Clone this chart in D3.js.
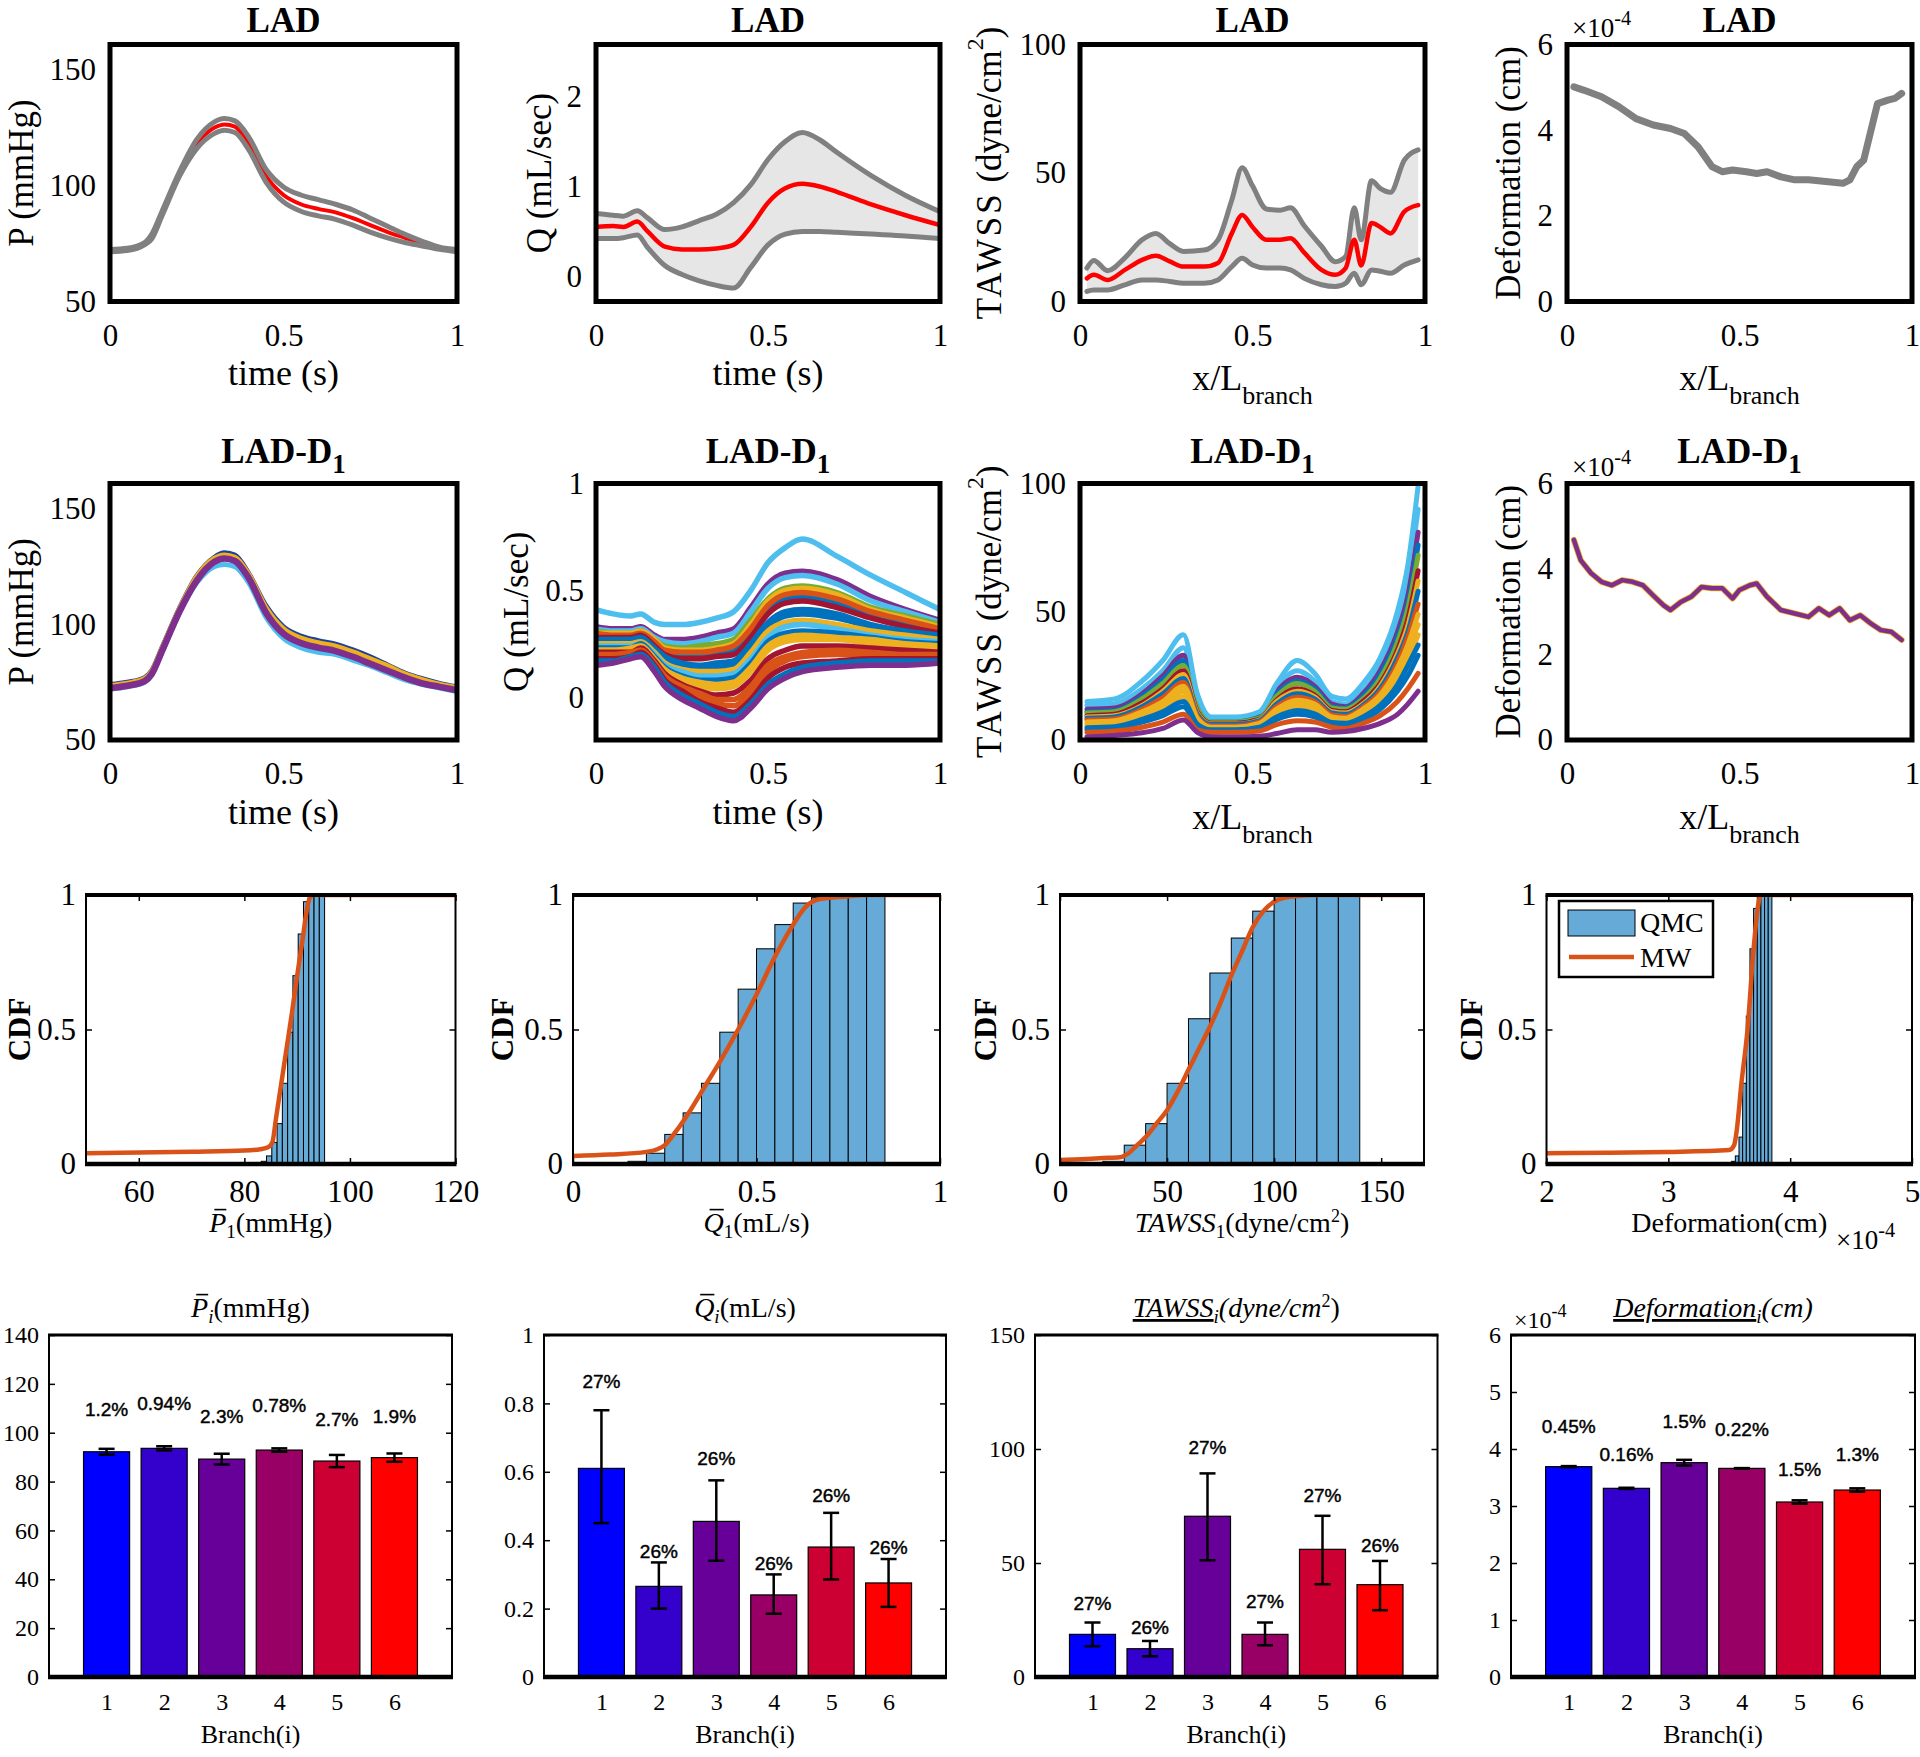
<!DOCTYPE html>
<html><head><meta charset="utf-8">
<script src="https://cdn.jsdelivr.net/npm/d3@7"></script>
<style>body{margin:0;background:#fff}svg{display:block}</style>
</head><body>
<script>
// ================= DATA =================
// Row 1 : LAD
const timeP = [0,0.05,0.1,0.12,0.15,0.2,0.25,0.3,0.33,0.36,0.4,0.45,0.5,0.55,0.6,0.65,0.7,0.75,0.8,0.85,0.9,0.95,1];
const pLadMean  = [72,72.5,75,78,88,105,118,125,126.5,125.5,118,104,96,92,90,88.5,86,83,80,77.5,75,73,72];
const pLadUpper = [72.5,73,75.5,79,89,106,120,127.5,129,128,121,107,99.5,96,94,92,89.5,86,82.5,79,76,73.5,72.5];
const pLadLower = [71.5,72,74.5,77,87,104,116,122.5,124,123,115.5,101.5,93,89,87,85.5,83,80,77.5,75.5,74,72.5,71.5];

const timeQ = [0,0.05,0.08,0.12,0.15,0.2,0.25,0.3,0.35,0.4,0.45,0.5,0.55,0.6,0.65,0.7,0.8,0.9,1];
const qLadUpper = [0.70,0.68,0.67,0.73,0.65,0.52,0.55,0.62,0.69,0.82,1.02,1.3,1.5,1.6,1.52,1.38,1.12,0.9,0.72];
const qLadMean  = [0.55,0.56,0.55,0.61,0.50,0.33,0.30,0.30,0.31,0.35,0.55,0.82,0.98,1.03,1.0,0.94,0.8,0.68,0.57];
const qLadLower = [0.42,0.42,0.43,0.46,0.32,0.12,0.02,-0.05,-0.10,-0.13,0.10,0.35,0.47,0.50,0.50,0.49,0.47,0.45,0.42];

const xTawss = [0.02,0.04,0.08,0.13,0.18,0.22,0.26,0.3,0.36,0.4,0.44,0.47,0.5,0.54,0.58,0.61,0.65,0.7,0.74,0.77,0.795,0.815,0.845,0.87,0.9,0.94,0.98];
const tawssLadUpper = [13,16,12,17,24,26.5,22.5,19.5,20,24,39.5,52,45,36,35.5,36.5,29.5,21.5,15.5,17.5,36.5,24,47,44,42.5,55,59];
const tawssLadMean  = [9,10.4,8.4,12.3,16.2,17.8,15.6,13.6,13.6,15,26.5,33.7,29,24,24,24.6,19,12.3,10.4,13,24,14,30.5,29,26.5,35,37.5];
const tawssLadLower = [3.9,4.5,4.5,6.5,8.4,8.4,7.8,7.1,7.1,8.4,13.6,16.8,14.2,13,13,12.3,9,6.5,5.8,7.1,11,6.5,12.3,11.8,11,14.2,16.2];

const xDefLad = [0.02,0.05,0.1,0.15,0.2,0.25,0.3,0.34,0.38,0.42,0.45,0.48,0.52,0.55,0.58,0.62,0.66,0.7,0.75,0.8,0.82,0.84,0.86,0.9,0.93,0.95,0.97];
const defLad  = [5.01,4.93,4.78,4.55,4.27,4.12,4.04,3.92,3.61,3.15,3.03,3.07,3.03,2.99,3.03,2.91,2.84,2.84,2.8,2.76,2.84,3.15,3.3,4.62,4.7,4.74,4.86];

// Row 2 : LAD-D1
const pD1Curves = [
  [72,73,75,78,88,105,118,125,126,125,118,103,94,90,88,87,84.5,82,79,76,74,72.5,71],
  [74,75,77,80,90,107,121,129,131,130,122,108,99,95,93,91.5,89,86,82.5,79,76.5,74.5,73],
  [73,74,76,79,89,106,120,128,129.5,128.5,121,106.5,97.5,93.5,91.5,90,87.5,84.5,81.5,78,75.5,73.5,72],
  [73.5,74.5,76.5,79.5,89.5,106.5,120.5,128.5,130,129,121.5,107,98,94,92,90.5,88,85,82,78.5,76,74,72.5],
  [72.5,73.5,75.5,78.5,88.5,105.5,119,127,128.5,127.5,120,105,96,92,90,88.5,86,83,80,77,74.5,73,71.5]
];
const timeQD1 = [0,0.05,0.1,0.13,0.17,0.2,0.25,0.3,0.35,0.4,0.45,0.5,0.55,0.6,0.7,0.8,0.9,1];
const qD1Curves = [
  [0.29,0.28,0.28,0.29,0.25,0.21,0.20,0.20,0.21,0.22,0.30,0.41,0.46,0.47,0.44,0.38,0.35,0.31],
  [0.33,0.32,0.32,0.33,0.29,0.27,0.27,0.28,0.30,0.32,0.42,0.53,0.58,0.59,0.55,0.47,0.41,0.36],
  [0.32,0.31,0.31,0.32,0.28,0.26,0.25,0.26,0.28,0.30,0.40,0.51,0.56,0.57,0.53,0.45,0.40,0.35],
  [0.31,0.30,0.30,0.31,0.27,0.24,0.23,0.24,0.25,0.27,0.36,0.46,0.51,0.52,0.49,0.42,0.38,0.34],
  [0.30,0.30,0.30,0.31,0.27,0.23,0.22,0.22,0.23,0.25,0.34,0.45,0.50,0.51,0.48,0.41,0.37,0.33],
  [0.30,0.29,0.29,0.30,0.26,0.22,0.21,0.21,0.22,0.24,0.32,0.43,0.48,0.49,0.46,0.40,0.36,0.32],
  [0.28,0.28,0.28,0.29,0.24,0.20,0.18,0.18,0.19,0.20,0.28,0.39,0.44,0.45,0.42,0.37,0.33,0.30],
  [0.27,0.27,0.27,0.28,0.23,0.19,0.16,0.15,0.16,0.17,0.25,0.35,0.40,0.41,0.39,0.34,0.31,0.29],
  [0.26,0.26,0.26,0.27,0.22,0.17,0.14,0.13,0.14,0.15,0.23,0.33,0.38,0.39,0.37,0.33,0.30,0.28],
  [0.25,0.25,0.25,0.26,0.21,0.16,0.13,0.12,0.12,0.13,0.21,0.31,0.35,0.36,0.34,0.31,0.29,0.27],
  [0.24,0.24,0.24,0.25,0.20,0.15,0.12,0.10,0.10,0.11,0.18,0.28,0.33,0.34,0.32,0.29,0.27,0.26],
  [0.23,0.23,0.23,0.25,0.19,0.14,0.10,0.08,0.08,0.09,0.16,0.26,0.30,0.31,0.30,0.28,0.26,0.25],
  [0.22,0.22,0.23,0.24,0.18,0.13,0.09,0.07,0.06,0.07,0.14,0.24,0.28,0.29,0.28,0.27,0.25,0.24],
  [0.22,0.22,0.22,0.24,0.18,0.12,0.08,0.05,0.04,0.05,0.12,0.22,0.26,0.27,0.27,0.25,0.24,0.23],
  [0.21,0.21,0.21,0.23,0.17,0.11,0.06,0.03,0.01,0.02,0.08,0.18,0.22,0.24,0.24,0.23,0.22,0.21],
  [0.20,0.20,0.21,0.22,0.16,0.10,0.05,0.02,-0.01,-0.01,0.05,0.15,0.19,0.21,0.22,0.21,0.20,0.20],
  [0.19,0.19,0.20,0.22,0.16,0.09,0.04,0.00,-0.03,-0.04,0.02,0.12,0.17,0.19,0.20,0.20,0.19,0.19],
  [0.18,0.18,0.19,0.21,0.15,0.08,0.03,-0.02,-0.05,-0.07,-0.01,0.09,0.14,0.16,0.17,0.18,0.18,0.18],
  [0.17,0.17,0.19,0.20,0.14,0.07,0.01,-0.03,-0.07,-0.09,-0.03,0.06,0.11,0.14,0.16,0.17,0.17,0.17],
  [0.41,0.39,0.38,0.39,0.35,0.34,0.34,0.35,0.37,0.40,0.50,0.63,0.70,0.74,0.66,0.57,0.49,0.41],
  [0.15,0.16,0.18,0.19,0.12,0.05,-0.01,-0.05,-0.09,-0.11,-0.05,0.04,0.09,0.12,0.14,0.15,0.15,0.16]
];
const xTawssD1 = [0.02,0.1,0.18,0.24,0.3,0.34,0.38,0.45,0.52,0.57,0.63,0.68,0.73,0.77,0.82,0.87,0.92,0.95,0.98];
const tawssD1Curves = [
  [13.5,14,20,27,36,15.5,8.5,8.5,10,20.5,27,23,15,14,19,29,46,62,90],
  [12,12.5,18,25,33,14,8,8,9.5,19,24.5,21,14,13,18,27,42,56,81],
  [11,11.5,17,23.5,31,13,7.5,7.5,9,18,23,20,13,12.5,17,25.5,40,53,76],
  [10.5,11,16,22,29,12.5,7,7,8.5,17,22,19,12.5,12,16,24,38,51,72],
  [9.5,10,14.5,20,27,11,6.5,6.5,8,15.5,20,17.5,11.5,11,15,22,35,47,66],
  [9,9.5,13.5,19,25.5,10.5,6.2,6.2,7.8,15,19,16.8,11,10.5,14,21,33.5,44.5,62],
  [8.5,9,13,18,24,10,6,6,7.5,14,18,16,10.5,10,13.5,20,32,42,58],
  [7.8,8.2,12,16.5,22.5,9.2,5.5,5.5,7,13,16.7,15,9.8,9.2,12.8,18.8,30,40,53],
  [7,7.5,11,15,21,8.5,5,5,6.5,12,15.5,14,9,8.5,12,17.5,28,37,49],
  [6.2,6.8,10,13.7,19,7.7,4.8,4.8,6,11,14.2,12.8,8.2,7.8,11,16.2,26,35,45],
  [5.5,6,9,12.5,17,7,4.5,4.5,5.5,10,13,11.5,7.5,7,10,15,24,31,41],
  [4.8,5.2,8,11,15,6.2,4,4,5,9,11.5,10.2,6.8,6.5,9,13.5,21.5,29,37],
  [4,4.5,7,9.5,13,5.5,3.5,3.5,4.5,8,10,9,6,6,8,12,19,25,33],
  [3,3.5,5,7,10,4,3,3,3.5,6,7.5,7,5,4.5,6.5,9.5,15,20,26],
  [1.3,1.8,2.8,4.5,7.8,3,1.3,1.2,1.5,2.5,4,4,3,3.3,4.5,6.5,10,14,19],
  [15,16,23,31,41,18,9,9,11,22,31,26,17,16,22,32,50,68,99]
];
const xDefD1 = [0.02,0.04,0.07,0.1,0.13,0.16,0.19,0.22,0.25,0.28,0.3,0.33,0.36,0.39,0.42,0.45,0.48,0.5,0.53,0.55,0.58,0.62,0.66,0.7,0.73,0.76,0.79,0.82,0.85,0.88,0.91,0.94,0.97];
const defD1   = [4.68,4.2,3.9,3.7,3.62,3.74,3.7,3.62,3.38,3.15,3.04,3.23,3.35,3.58,3.55,3.55,3.31,3.51,3.62,3.66,3.35,3.04,2.96,2.88,3.08,2.92,3.08,2.8,2.92,2.73,2.57,2.53,2.34];

// Row 3 : CDFs (QMC histogram + MW curve)
const cdfPEdges = [83.2,84.2,85.2,86.2,87.2,88.2,89.2,90.2,91.2,92.2,93.2,94.2,95.2];
const cdfPQmc   = [0.01,0.03,0.08,0.15,0.30,0.49,0.70,0.855,0.975,1,1,1];
const mwPx = [50,60,70,80,83,84.5,85.3,86,87,88,89,90,91,91.8,92.4,93,100,110,120];
const mwPy = [0.04,0.043,0.046,0.05,0.055,0.062,0.08,0.17,0.3,0.43,0.56,0.7,0.83,0.94,0.99,1,1,1,1];

const cdfQEdges = [0.15,0.2,0.25,0.3,0.35,0.4,0.45,0.5,0.55,0.6,0.65,0.7,0.75,0.8,0.85];
const cdfQQmc   = [0.01,0.04,0.11,0.19,0.30,0.49,0.65,0.80,0.89,0.97,0.99,1,1,1];
const mwQx = [0,0.1,0.2,0.23,0.25,0.28,0.32,0.36,0.4,0.45,0.5,0.55,0.6,0.63,0.66,0.7,0.75,0.8,1];
const mwQy = [0.03,0.035,0.045,0.055,0.07,0.12,0.2,0.29,0.38,0.5,0.63,0.77,0.89,0.95,0.98,0.99,0.995,1,1];

const cdfTEdges = [20,30,40,50,60,70,80,90,100,110,120,130,140];
const cdfTQmc   = [0.01,0.07,0.15,0.30,0.54,0.71,0.84,0.94,1,1,1,1];
const mwTx = [0,10,20,28,32,36,40,45,50,55,60,65,70,75,80,85,90,95,100,105,110,120,170];
const mwTy = [0.015,0.018,0.022,0.025,0.04,0.07,0.1,0.15,0.2,0.27,0.35,0.43,0.51,0.6,0.7,0.79,0.88,0.94,0.975,0.99,0.995,1,1];

const cdfDEdges = [3.52,3.55,3.58,3.61,3.64,3.67,3.70,3.73,3.76,3.79,3.82,3.85];
const cdfDQmc   = [0.01,0.03,0.1,0.3,0.55,0.8,0.95,1,1,1,1];
const mwDx = [2,2.5,3,3.5,3.54,3.56,3.6,3.65,3.7,3.74,3.76,4,5];
const mwDy = [0.04,0.042,0.045,0.052,0.07,0.12,0.3,0.5,0.8,0.97,1,1,1];
const legendLabels = ["QMC","MW"];

// Row 4 : bar charts per branch
const branches = [1,2,3,4,5,6];
const pBarMean = [92.2,93.6,89.2,92.9,88.4,89.8];
const pBarLo   = [91.0,92.75,87.0,92.2,85.9,88.1];
const pBarHi   = [93.4,94.45,91.4,93.6,90.9,91.5];
const pBarPct  = ["1.2%","0.94%","2.3%","0.78%","2.7%","1.9%"];
const pBarPctAt= [109.6,112,106.6,111.3,105.5,106.8];

const qBarMean = [0.61,0.265,0.455,0.24,0.38,0.275];
const qBarLo   = [0.45,0.20,0.34,0.185,0.285,0.205];
const qBarHi   = [0.78,0.335,0.575,0.30,0.48,0.345];
const qBarPct  = ["27%","26%","26%","26%","26%","26%"];
const qBarPctAt= [0.863,0.366,0.639,0.332,0.532,0.38];

const tBarMean = [18.7,12.4,70.5,18.7,56,40.5];
const tBarLo   = [13.5,9.1,51.2,13.9,40.7,29.3];
const tBarHi   = [23.9,15.8,89.3,23.9,70.7,50.9];
const tBarPct  = ["27%","26%","27%","27%","27%","26%"];
const tBarPctAt= [32.2,21.7,100.7,32.9,79.8,57.8];

const dBarMean = [3.69,3.31,3.76,3.66,3.07,3.28];
const dBarLo   = [3.68,3.30,3.71,3.655,3.04,3.25];
const dBarHi   = [3.70,3.32,3.81,3.665,3.10,3.31];
const dBarPct  = ["0.45%","0.16%","1.5%","0.22%","1.5%","1.3%"];
const dBarPctAt= [4.39,3.90,4.48,4.35,3.64,3.91];

const unitTicks = [0,0.5,1];

// ================= STYLES =================
const SERIF = "'Liberation Serif','Times New Roman',Times,serif";
const SANS = "'Liberation Sans',Arial,Helvetica,sans-serif";
const C = {blue:'#0072BD', orange:'#D95319', yellow:'#EDB120', purple:'#7E2F8E', green:'#77AC30', cyan:'#4DBEEE', red:'#A2142F'};
const pD1Colors = [C.cyan, '#1F3F9F', C.orange, C.yellow, C.purple];
const pD1Widths = [5, 5, 5, 5.5, 6.5];
const qD1Colors = [C.blue, C.purple, C.cyan, C.green, C.yellow, C.orange, C.red, C.blue, C.blue, C.yellow, C.cyan, C.blue, C.yellow, C.yellow, C.red, C.orange, C.orange, C.red, C.blue, C.cyan, C.purple];
const tD1Colors = [C.cyan, C.purple, C.blue, C.green, C.red, C.yellow, C.blue, C.orange, C.yellow, C.yellow, C.yellow, C.blue, C.blue, C.orange, C.purple, C.cyan];
const barColors = ['#0000FF','#3300CC','#660099','#990066','#CC0033','#FF0000'];
const GRAY = '#808080', BAND = '#E6E6E6', HIST = '#66AAD7';

// ================= HELPERS =================
const svg = d3.select('body').append('svg').attr('width',1920).attr('height',1757);
svg.append('rect').attr('width',1920).attr('height',1757).attr('fill','#fff');
const defs = svg.append('defs');
let clipN = 0;

function panel(x0,x1,y0,y1,xDom,yDom){
  const x = d3.scaleLinear().domain(xDom).range([x0,x1]);
  const y = d3.scaleLinear().domain(yDom).range([y1,y0]);
  const id = 'clip'+(clipN++);
  defs.append('clipPath').attr('id',id).append('rect').attr('x',x0).attr('y',y0).attr('width',x1-x0).attr('height',y1-y0);
  const g = svg.append('g');
  const plot = g.append('g').attr('clip-path',`url(#${id})`);
  return {x,y,g,plot,x0,x1,y0,y1};
}
function boxThick(p,w){
  p.g.append('rect').attr('x',p.x0).attr('y',p.y0).attr('width',p.x1-p.x0).attr('height',p.y1-p.y0)
    .attr('fill','none').attr('stroke','#000').attr('stroke-width',w);
}
function boxMixed(p,side,top,bottom){
  const g=p.g;
  g.append('line').attr('x1',p.x0).attr('x2',p.x0).attr('y1',p.y0).attr('y2',p.y1).attr('stroke','#000').attr('stroke-width',side);
  g.append('line').attr('x1',p.x1).attr('x2',p.x1).attr('y1',p.y0).attr('y2',p.y1).attr('stroke','#000').attr('stroke-width',side);
  g.append('line').attr('x1',p.x0-side/2).attr('x2',p.x1+side/2).attr('y1',p.y0).attr('y2',p.y0).attr('stroke','#000').attr('stroke-width',top);
  g.append('line').attr('x1',p.x0-side/2).attr('x2',p.x1+side/2).attr('y1',p.y1).attr('y2',p.y1).attr('stroke','#000').attr('stroke-width',bottom);
}
function styleAxis(a,size){
  a.select('.domain').remove();
  a.selectAll('text').style('font-family',SERIF).style('font-size',size+'px').attr('fill','#000');
  a.selectAll('line').attr('stroke','#000').attr('stroke-width',1.5);
}
function yLabels(p,ticks,size,pad){
  const a = p.g.append('g').attr('transform',`translate(${p.x0},0)`)
    .call(d3.axisLeft(p.y).tickValues(ticks).tickSize(0).tickPadding(pad).tickFormat(d=>String(d)));
  styleAxis(a,size); return a;
}
function xLabels(p,ticks,size,pad){
  const a = p.g.append('g').attr('transform',`translate(0,${p.y1})`)
    .call(d3.axisBottom(p.x).tickValues(ticks).tickSize(0).tickPadding(pad).tickFormat(d=>String(d)));
  styleAxis(a,size); return a;
}
function innerTicks(p,xt,yt,len){
  if(yt){
    styleAxis(p.g.append('g').attr('transform',`translate(${p.x0},0)`).call(d3.axisLeft(p.y).tickValues(yt).tickSizeInner(-len).tickSizeOuter(0).tickFormat('')),10);
    styleAxis(p.g.append('g').attr('transform',`translate(${p.x1},0)`).call(d3.axisRight(p.y).tickValues(yt).tickSizeInner(-len).tickSizeOuter(0).tickFormat('')),10);
  }
  if(xt){
    styleAxis(p.g.append('g').attr('transform',`translate(0,${p.y1})`).call(d3.axisBottom(p.x).tickValues(xt).tickSizeInner(-len).tickSizeOuter(0).tickFormat('')),10);
    styleAxis(p.g.append('g').attr('transform',`translate(0,${p.y0})`).call(d3.axisTop(p.x).tickValues(xt).tickSizeInner(-len).tickSizeOuter(0).tickFormat('')),10);
  }
}
function rich(parent,x,y,parts,o){
  const size=o.size;
  const t=parent.append('text').attr('x',x).attr('y',y)
    .attr('text-anchor',o.anchor||'middle').style('font-family',o.family||SERIF)
    .style('font-size',size+'px').attr('fill','#000');
  if(o.bold) t.style('font-weight','bold');
  if(o.baseline) t.attr('dominant-baseline',o.baseline);
  if(o.rotate) t.attr('transform',`rotate(${o.rotate},${x},${y})`);
  let shift=0, idx=0; const overs=[];
  parts.forEach(p=>{
    const ts=t.append('tspan').text(p.t);
    let target=0, fs=size;
    if(p.sub){ target = p.shift!=null?p.shift:size*0.32; fs=p.size||size*0.72; }
    if(p.sup){ target = p.shift!=null?p.shift:-size*0.42; fs=p.size||size*0.7; }
    ts.attr('dy',target-shift); shift=target;
    if(fs!==size) ts.style('font-size',fs+'px');
    if(p.italic) ts.style('font-style','italic');
    if(p.over) overs.push(idx);
    if(p.under) ts.style('text-decoration','underline');
    if(p.ls) ts.style('letter-spacing',p.ls+'px');
    idx += p.t.length;
  });
  overs.forEach(i=>{
    const e=t.node().getExtentOfChar(i);
    parent.append('line').attr('x1',e.x+e.width*0.3).attr('x2',e.x+e.width*1.0)
      .attr('y1',y-size*0.8).attr('y2',y-size*0.8).attr('stroke','#000').attr('stroke-width',1.6);
  });
  return t;
}
const lineGen=(p,curve)=>d3.line().x(d=>p.x(d[0])).y(d=>p.y(d[1])).curve(curve||d3.curveMonotoneX);
function drawLine(p,xs,ys,color,w,curve){
  p.plot.append('path').datum(xs.map((v,i)=>[v,ys[i]])).attr('d',lineGen(p,curve))
    .attr('fill','none').attr('stroke',color).attr('stroke-width',w)
    .attr('stroke-linejoin','round').attr('stroke-linecap','round');
}
function drawBand(p,xs,lo,hi,fill){
  p.plot.append('path').datum(xs.map((v,i)=>[v,lo[i],hi[i]]))
    .attr('d',d3.area().x(d=>p.x(d[0])).y0(d=>p.y(d[1])).y1(d=>p.y(d[2])).curve(d3.curveMonotoneX))
    .attr('fill',fill);
}

// ================= LAYOUT =================
const rowY = [[44.5,301.5],[483.5,740],[895,1164],[1335,1677]];
const colsTop = [[110,457],[596,940],[1080,1425],[1567,1912]];
const colsCdf = [[86,455.5],[573,940],[1060,1424],[1546.5,1912]];
const colsBar = [[49,452],[544,946],[1035,1437.5],[1511,1915]];
const yLabX = [[21,539,989,1508],[21,516,989,1508]];
const cdfLabX = [19,502,985,1471];

function topTitle(p,row){
  const cx=(p.x0+p.x1)/2;
  if(row===0) rich(svg,cx,32,[{t:'LAD'}],{size:35,bold:true});
  else rich(svg,cx,463,[{t:'LAD-D'},{t:'1',sub:true,shift:10,size:27}],{size:35,bold:true});
}
function yRot(x,cy,parts,size){ rich(svg,x,cy,parts,{size,rotate:-90,baseline:'central'}); }
function xBranch(p,base){ rich(svg,(p.x0+p.x1)/2,base,[{t:'x/L'},{t:'branch',sub:true,shift:14,size:26}],{size:36}); }
function xTime(p,base){ rich(svg,(p.x0+p.x1)/2,base,[{t:'time (s)'}],{size:36}); }
function exp4(x,base,size){ rich(svg,x,base,[{t:'\u00d710'},{t:'-4',sup:true,size:size*0.75,shift:-size*0.45}],{size,anchor:'start'}); }

// ================= ROW 1 & 2 =================
for(let r=0;r<2;r++){
  const [y0,y1]=rowY[r];
  const cy=(y0+y1)/2;
  const xlBase = r===0?385:823.5;
  const xbBase = r===0?390:828.5;
  const tickPadX = r===0?22:21.5;
  // P
  let p=panel(colsTop[0][0],colsTop[0][1],y0,y1,[0,1],[50,161]);
  if(r===0){
    drawLine(p,timeP,pLadMean,'#FF0000',4);
    drawLine(p,timeP,pLadUpper,GRAY,5);
    drawLine(p,timeP,pLadLower,GRAY,5);
  } else {
    pD1Curves.forEach((c,i)=>drawLine(p,timeP,c,pD1Colors[i],pD1Widths[i]));
  }
  boxThick(p,5); yLabels(p,[50,100,150],31,14); xLabels(p,unitTicks,31,tickPadX);
  topTitle(p,r); xTime(p,xlBase); yRot(yLabX[r][0],cy,[{t:'P (mmHg)'}],35);
  // Q
  p = r===0 ? panel(colsTop[1][0],colsTop[1][1],y0,y1,[0,1],[-0.28,2.58])
            : panel(colsTop[1][0],colsTop[1][1],y0,y1,[0,1],[-0.2,1]);
  if(r===0){
    drawBand(p,timeQ,qLadLower,qLadUpper,BAND);
    drawLine(p,timeQ,qLadUpper,GRAY,5);
    drawLine(p,timeQ,qLadLower,GRAY,5);
    drawLine(p,timeQ,qLadMean,'#FF0000',4.5);
    yLabels(p,[0,1,2],31,14);
  } else {
    qD1Curves.forEach((c,i)=>drawLine(p,timeQD1,c,qD1Colors[i],5.5));
    yLabels(p,[0,0.5,1],31,12);
  }
  boxThick(p,5); xLabels(p,unitTicks,31,tickPadX);
  topTitle(p,r); xTime(p,xlBase); yRot(yLabX[r][1],cy,[{t:'Q (mL/sec)'}],35);
  // TAWSS
  p=panel(colsTop[2][0],colsTop[2][1],y0,y1,[0,1],[0,100]);
  if(r===0){
    drawBand(p,xTawss,tawssLadLower,tawssLadUpper,BAND);
    drawLine(p,xTawss,tawssLadUpper,GRAY,5);
    drawLine(p,xTawss,tawssLadLower,GRAY,5);
    drawLine(p,xTawss,tawssLadMean,'#FF0000',4.5);
  } else {
    tawssD1Curves.forEach((c,i)=>drawLine(p,xTawssD1,c,tD1Colors[i],5));
  }
  boxThick(p,5); yLabels(p,[0,50,100],31,14); xLabels(p,unitTicks,31,tickPadX);
  topTitle(p,r); xBranch(p,xbBase);
  yRot(yLabX[r][2],cy,[{t:'TAWSS',ls:3},{t:' (dyne/cm'},{t:'2',sup:true,size:24,shift:-14},{t:')'}],35);
  // Deformation
  p=panel(colsTop[3][0],colsTop[3][1],y0,y1,[0,1],[0,6]);
  if(r===0){
    drawLine(p,xDefLad,defLad,GRAY,7,d3.curveLinear);
  } else {
    drawLine(p,xDefD1,defD1,C.yellow,6,d3.curveLinear);
    drawLine(p,xDefD1,defD1,C.purple,4.5,d3.curveLinear);
  }
  boxThick(p,5); yLabels(p,[0,2,4,6],31,14); xLabels(p,unitTicks,31,tickPadX);
  topTitle(p,r); xBranch(p,xbBase);
  yRot(yLabX[r][3],cy,[{t:'Deformation (cm)'}],35);
  exp4(1572, r===0?36.7:475.7, 27);
}

// ================= ROW 3 (CDF) =================
{
  const [y0,y1]=rowY[2];
  const cy=(y0+y1)/2;
  const cdfs=[
    {dom:[50,120],ticks:[60,80,100,120],edges:cdfPEdges,q:cdfPQmc,mx:mwPx,my:mwPy,
     lab:[{t:'P',italic:true,over:true},{t:'1',sub:true,size:19,shift:6},{t:'(mmHg)'}]},
    {dom:[0,1],ticks:[0,0.5,1],edges:cdfQEdges,q:cdfQQmc,mx:mwQx,my:mwQy,
     lab:[{t:'Q',italic:true,over:true},{t:'1',sub:true,size:19,shift:6},{t:'(mL/s)'}]},
    {dom:[0,170],ticks:[0,50,100,150],edges:cdfTEdges,q:cdfTQmc,mx:mwTx,my:mwTy,
     lab:[{t:'TAWSS',italic:true},{t:'1',sub:true,size:19,shift:6},{t:'(dyne/cm'},{t:'2',sup:true,size:18,shift:-10},{t:')'}]},
    {dom:[2,5],ticks:[2,3,4,5],edges:cdfDEdges,q:cdfDQmc,mx:mwDx,my:mwDy,
     lab:[{t:'Deformation(cm)'}]}
  ];
  cdfs.forEach((c,k)=>{
    const p=panel(colsCdf[k][0],colsCdf[k][1],y0,y1,c.dom,[0,1]);
    p.plot.selectAll('rect.bin').data(c.q).enter().append('rect')
      .attr('x',(d,i)=>p.x(c.edges[i])).attr('width',(d,i)=>p.x(c.edges[i+1])-p.x(c.edges[i]))
      .attr('y',d=>p.y(d)).attr('height',d=>p.y(0)-p.y(d))
      .attr('fill',HIST).attr('stroke','#000').attr('stroke-width',1);
    drawLine(p,c.mx,c.my,'#D95319',4.5);
    innerTicks(p,c.ticks,[0,0.5,1],6);
    boxMixed(p,2,4,4.5);
    yLabels(p,[0,0.5,1],31,10);
    xLabels(p,c.ticks,31,16);
    rich(svg,(p.x0+p.x1)/2,1232,c.lab,{size:28});
    rich(svg,cdfLabX[k],cy,[{t:'CDF'}],{size:31,bold:true,rotate:-90,baseline:'central'});
    if(k===3){
      exp4(1836,1249,27);
      const lg=p.g.append('g');
      lg.append('rect').attr('x',1559).attr('y',901).attr('width',154).attr('height',76)
        .attr('fill','#fff').attr('stroke','#000').attr('stroke-width',2.5);
      lg.append('rect').attr('x',1568).attr('y',910).attr('width',67).attr('height',26)
        .attr('fill',HIST).attr('stroke','#000').attr('stroke-width',1);
      lg.append('line').attr('x1',1569).attr('x2',1634).attr('y1',957).attr('y2',957)
        .attr('stroke','#D95319').attr('stroke-width',4.5);
      rich(lg,1640,932,[{t:legendLabels[0]}],{size:28,anchor:'start'});
      rich(lg,1640,967,[{t:legendLabels[1]}],{size:28,anchor:'start'});
    }
  });
}

// ================= ROW 4 (bars) =================
{
  const [y0,y1]=rowY[3];
  const bars=[
    {dom:[0,140],ticks:[0,20,40,60,80,100,120,140],m:pBarMean,lo:pBarLo,hi:pBarHi,pct:pBarPct,at:pBarPctAt,
     title:[{t:'P',italic:true,over:true},{t:'i',italic:true,sub:true,size:19,shift:6},{t:'(mmHg)'}]},
    {dom:[0,1],ticks:[0,0.2,0.4,0.6,0.8,1],m:qBarMean,lo:qBarLo,hi:qBarHi,pct:qBarPct,at:qBarPctAt,
     title:[{t:'Q',italic:true,over:true},{t:'i',italic:true,sub:true,size:19,shift:6},{t:'(mL/s)'}]},
    {dom:[0,150],ticks:[0,50,100,150],m:tBarMean,lo:tBarLo,hi:tBarHi,pct:tBarPct,at:tBarPctAt,
     title:[{t:'TAWSS',italic:true,under:true},{t:'i',italic:true,sub:true,size:19,shift:6},{t:'(dyne/cm',italic:true},{t:'2',sup:true,size:18,shift:-10},{t:')'}]},
    {dom:[0,6],ticks:[0,1,2,3,4,5,6],m:dBarMean,lo:dBarLo,hi:dBarHi,pct:dBarPct,at:dBarPctAt,
     title:[{t:'Deformation',italic:true,under:true},{t:'i',italic:true,sub:true,size:19,shift:6},{t:'(cm)',italic:true}]}
  ];
  bars.forEach((b,k)=>{
    const p=panel(colsBar[k][0],colsBar[k][1],y0,y1,[0,7],b.dom);
    const bw=p.x(0.8)-p.x(0);
    p.plot.selectAll('rect.bar').data(b.m).enter().append('rect')
      .attr('x',(d,i)=>p.x(branches[i])-bw/2).attr('width',bw)
      .attr('y',d=>p.y(d)).attr('height',d=>p.y(0)-p.y(d))
      .attr('fill',(d,i)=>barColors[i]).attr('stroke','#000').attr('stroke-width',1.2);
    const eg=p.g.append('g').attr('stroke','#000').attr('stroke-width',2.5);
    branches.forEach((c,i)=>{
      const cx=p.x(c);
      eg.append('line').attr('x1',cx).attr('x2',cx).attr('y1',p.y(b.lo[i])).attr('y2',p.y(b.hi[i]));
      eg.append('line').attr('x1',cx-8).attr('x2',cx+8).attr('y1',p.y(b.lo[i])).attr('y2',p.y(b.lo[i]));
      eg.append('line').attr('x1',cx-8).attr('x2',cx+8).attr('y1',p.y(b.hi[i])).attr('y2',p.y(b.hi[i]));
      p.g.append('text').attr('x',cx).attr('y',p.y(b.at[i])).attr('text-anchor','middle')
        .attr('dominant-baseline','central').style('font-family',SANS).style('font-size','19px')
        .attr('fill','#000').attr('stroke','#000').attr('stroke-width',0.45).text(b.pct[i]);
    });
    innerTicks(p,null,b.ticks,6);
    boxMixed(p,2,3,4.5);
    yLabels(p,b.ticks,24,10);
    xLabels(p,branches,24,16);
    rich(svg,(p.x0+p.x1)/2,1743,[{t:'Branch(i)'}],{size:26});
    rich(svg,(p.x0+p.x1)/2,1317,b.title,{size:28});
    if(k===3) exp4(1514,1328,24);
  });
}
</script>
</body></html>
